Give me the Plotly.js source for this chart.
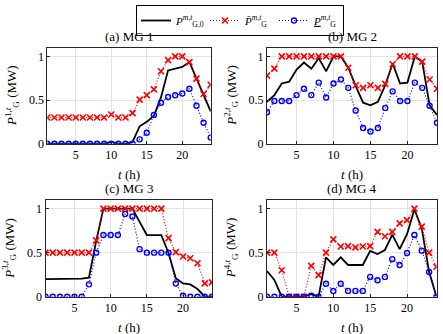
<!DOCTYPE html>
<html><head><meta charset="utf-8">
<script src="https://cdn.plot.ly/plotly-3.0.1.min.js"></script>
<style>html,body{margin:0;padding:0;background:#fff}#c{width:443px;height:334px}</style>
</head><body><div id="c"></div>
<script>
const t = [1,2,3,4,5,6,7,8,9,10,11,12,13,14,15,16,17,18,19,20,21,22,23,24];

const a_P0   = [0,0,0,0,0,0,0,0,0,0.02,0,0,0.02,0.2,0.25,0.32,0.53,0.84,0.86,0.88,0.935,0.745,0.555,0.37];
const a_Pmax = [0.3,0.3,0.3,0.3,0.3,0.3,0.3,0.3,0.3,0.335,0.3,0.3,0.35,0.505,0.557,0.622,0.83,0.957,1,1,0.935,0.745,0.57,0.675];
const a_Pmin = [0,0,0,0,0,0,0,0,0,0,0,0,0,0.05,0.125,0.33,0.47,0.535,0.555,0.575,0.63,0.435,0.24,0.07];

const b_P0   = [0.48,0.557,0.69,0.71,0.85,0.93,0.86,0.98,0.83,1.0,1.0,0.87,0.66,0.47,0.44,0.48,0.67,0.92,0.69,0.70,1.0,0.94,0.44,0.33];
const b_Pmax = [0.78,0.86,1,1,1,1,1,1,1,1,1,0.87,0.67,0.64,0.67,0.64,0.685,0.91,1,1,1,0.94,0.735,0.63];
const b_Pmin = [0.36,0.49,0.49,0.49,0.557,0.63,0.557,0.70,0.53,0.69,0.735,0.64,0.38,0.18,0.14,0.18,0.41,0.60,0.49,0.49,0.70,0.64,0.435,0.24];

const c_P0   = [0.2,0.2,0.2,0.2,0.205,0.205,0.215,0.63,1,1,1,1,1,0.85,0.7,0.7,0.7,0.494,0.21,0.15,0.14,0.087,0,0];
const c_Pmax = [0.5,0.5,0.5,0.5,0.5,0.5,0.5,0.64,1,1,1,1,1,1,1,1,1,0.665,0.506,0.456,0.437,0.38,0.152,0.163];
const c_Pmin = [0,0,0,0,0,0,0.14,0.5,0.7,0.7,0.7,0.94,0.91,0.54,0.5,0.5,0.5,0.5,0.15,0.01,0,0,0,0];

const d_P0   = [0.29,0.19,0,0,0,0,0.03,0,0.446,0.36,0.446,0.36,0.36,0.36,0.52,0.485,0.53,0.705,0.54,0.71,0.99,0.775,0.28,0];
const d_Pmax = [0.5,0.5,0.3,0,0,0,0.35,0.245,0.5,0.65,0.57,0.574,0.56,0.57,0.574,0.736,0.686,0.736,0.833,0.87,1.0,0.795,0.5,0.34];
const d_Pmin = [0,0,0,0,0,0,0.01,0,0.147,0.066,0.147,0.066,0.066,0.066,0.225,0.186,0.225,0.426,0.36,0.496,0.70,0.523,0.28,0];

const panelTitles = ['(a) MG 1','(b) MG 2','(c) MG 3','(d) MG 4'];
const yTitles = ['1','2','3','4'];
const xTickVals = [5,10,15,20];
const yTickVals = [0,0.5,1];
const yTickText = ['0','0.5','1'];
const legendNames = ['<i>P</i><sup><i>m,t</i></sup><sub>G,0</sub>',
                     '<i>P̄</i><sup><i>m,t</i></sup><sub>G</sub>',
                     '<u><i>P</i></u><sup><i>m,t</i></sup><sub>G</sub>'];

const W = 443, H = 334;
const FONT = 'Liberation Serif';
const boxes = [[47.3,210.7,47.7,143.7],[267,437,47.7,143.7],[45.5,212,199.8,296.7],[267,436.5,199.8,296.7]];
const series = [[a_P0,a_Pmax,a_Pmin],[b_P0,b_Pmax,b_Pmin],[c_P0,c_Pmax,c_Pmin],[d_P0,d_Pmax,d_Pmin]];

const data = [];
const layout = {
  width: W, height: H, margin:{l:0,r:0,t:0,b:0},
  paper_bgcolor:'#fff', plot_bgcolor:'#fff',
  font:{family:FONT, size:12, color:'#000'},
  showlegend:true,
  legend:{orientation:'h', x:240/W, xanchor:'center', y:1-5/H, yanchor:'top',
          bordercolor:'#000', borderwidth:1, bgcolor:'#fff', font:{family:FONT,size:11},
          tracegroupgap:0, itemwidth:30, entrywidth:24, entrywidthmode:'pixels'},
  annotations:[]
};

for (let i=0;i<4;i++){
  const [x0,x1,yt,yb] = boxes[i];
  const sx = i===0?'':String(i+1);
  const xa = 'xaxis'+sx, ya='yaxis'+sx;
  layout[xa] = {domain:[x0/W,x1/W], anchor:'y'+sx, range:[1,24], tickvals:xTickVals,
    showline:true, mirror:true, linecolor:'#262626', linewidth:1, ticks:'inside', ticklen:3,
    tickcolor:'#262626', showgrid:true, gridcolor:'#e3e3e3', zeroline:false,
    tickfont:{family:FONT,size:12}};
  layout[ya] = {domain:[1-yb/H,1-yt/H], anchor:'x'+sx, range:[0,1.1], tickvals:yTickVals, ticktext:yTickText,
    showline:true, mirror:true, linecolor:'#262626', linewidth:1, ticks:'inside', ticklen:3,
    tickcolor:'#262626', showgrid:true, gridcolor:'#e3e3e3', zeroline:false,
    tickfont:{family:FONT,size:12}};
  const [p0,pmax,pmin] = series[i];
  data.push({x:t, y:p0, xaxis:'x'+sx, yaxis:'y'+sx, mode:'lines', name:legendNames[0],
    line:{color:'#000', width:1.8}, showlegend:i===0, legendgroup:'a'});
  data.push({x:t, y:pmax, xaxis:'x'+sx, yaxis:'y'+sx, mode:'lines+markers', name:legendNames[1],
    line:{color:'#ff0000', width:1.2, dash:'1px,2px'},
    marker:{symbol:'x-thin-open', size:6, color:'#ff0000', line:{color:'#ff0000', width:1.6}},
    showlegend:i===0, legendgroup:'b'});
  data.push({x:t, y:pmin, xaxis:'x'+sx, yaxis:'y'+sx, mode:'lines+markers', name:legendNames[2],
    line:{color:'#0000ff', width:1.2, dash:'1px,2px'},
    marker:{symbol:'circle-open', size:5, color:'#0000ff', line:{color:'#0000ff', width:1.4}},
    showlegend:i===0, legendgroup:'c'});
  layout.annotations.push({text:panelTitles[i], xref:'paper', yref:'paper', x:((x0+x1)/2)/W, y:1-(yt-11)/H,
    xanchor:'center', yanchor:'middle', showarrow:false, font:{family:FONT,size:13}});
  layout.annotations.push({text:'<i>t</i> (h)', xref:'paper', yref:'paper', x:((x0+x1)/2)/W, y:1-(yb+31)/H,
    xanchor:'center', yanchor:'middle', showarrow:false, font:{family:FONT,size:13}});
  layout.annotations.push({text:'<i>P</i><sup>'+yTitles[i]+',<i>t</i></sup><sub>G</sub> (MW)', xref:'paper', yref:'paper',
    x:(x0-36)/W, y:1-((yt+yb)/2)/H, xanchor:'center', yanchor:'middle', textangle:-90, showarrow:false,
    font:{family:FONT,size:13}});
}

Plotly.newPlot('c', data, layout, {staticPlot:true, displayModeBar:false});
</script></body></html>
